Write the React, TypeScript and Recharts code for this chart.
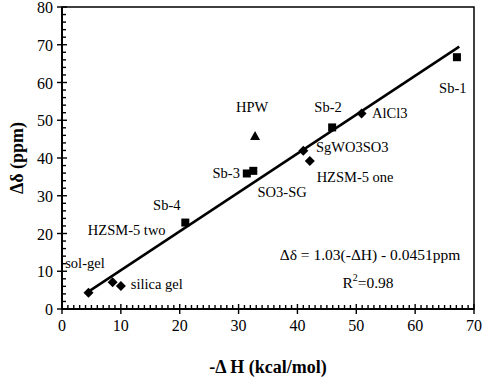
import { ScatterChart, Scatter, XAxis, YAxis, ReferenceArea } from "recharts";

// catalysts shown as squares (Sb series)
const squareX = [67.1, 45.9, 31.4, 32.5, 20.95];
const squareY = [66.7, 48.1, 35.9, 36.6, 22.9];

// catalysts shown as diamonds
const diamondX = [4.5, 8.6, 10.0, 41.0, 42.1, 50.9];
const diamondY = [4.3, 7.1, 6.1, 41.9, 39.2, 51.8];

// HPW (triangle)
const triangleX = [32.8];
const triangleY = [45.8];

// least squares fit line end points
const fitX = [4.5, 67.5];
const fitY = [4.6, 69.5];

// point labels
const labelText = [
  "Sb-1", "HPW", "Sb-2", "AlCl3", "SgWO3SO3", "HZSM-5 one",
  "Sb-3", "SO3-SG", "Sb-4", "HZSM-5 two", "sol-gel", "silica gel",
];
const labelX = [66.4, 32.3, 45.2, 55.7, 49.3, 49.8, 27.9, 37.4, 17.8, 11.0, 3.9, 16.1];
const labelY = [58.5, 53.5, 53.5, 51.9, 42.9, 35.0, 36.0, 31.0, 27.5, 20.9, 12.2, 6.6];

const xMajor = [0, 10, 20, 30, 40, 50, 60, 70];
const yMajor = [0, 10, 20, 30, 40, 50, 60, 70, 80];
const xTicks = Array.from({ length: 71 }, (_, i) => i);
const yTicks = Array.from({ length: 41 }, (_, i) => i * 2);

const FONT = "Liberation Serif, DejaVu Serif, Times New Roman, serif";
const txt = { fontFamily: FONT };

const zip = (xs: number[], ys: number[]) => xs.map((x, i) => ({ x, y: ys[i] }));

const squares = zip(squareX, squareY);
const diamonds = zip(diamondX, diamondY);
const triangles = zip(triangleX, triangleY);
const fit = zip(fitX, fitY);
const labels = labelText.map((text, i) => ({ x: labelX[i], y: labelY[i], text }));

const XTick = (props: any) => {
  const { x, y, payload } = props;
  const v = payload.value;
  const major = xMajor.includes(v);
  return (
    <g>
      <rect x={x - 0.7} y={major ? y - 5 : y - 4} width={1.4} height={major ? 10 : 4} fill="#000" />
      {major && (
        <text x={x} y={y + 22} textAnchor="middle" style={txt} fontSize={16} fill="#000">
          {v}
        </text>
      )}
    </g>
  );
};

const YTick = (props: any) => {
  const { x, y, payload } = props;
  const v = payload.value;
  const major = yMajor.includes(v);
  return (
    <g>
      <rect x={major ? x - 5 : x} y={y - 0.7} width={major ? 10 : 4} height={1.4} fill="#000" />
      {major && (
        <text x={x - 9} y={y + 6} textAnchor="end" style={txt} fontSize={16} fill="#000">
          {v}
        </text>
      )}
    </g>
  );
};

const Square = (p: any) => <rect x={p.cx - 4} y={p.cy - 4} width={8} height={8} fill="#000" />;
const Diamond = (p: any) => (
  <path d={`M${p.cx},${p.cy - 5}L${p.cx + 5},${p.cy}L${p.cx},${p.cy + 5}L${p.cx - 5},${p.cy}Z`} fill="#000" />
);
const Triangle = (p: any) => (
  <path d={`M${p.cx},${p.cy - 5}L${p.cx + 5},${p.cy + 4}L${p.cx - 5},${p.cy + 4}Z`} fill="#000" />
);
const Label = (p: any) => (
  <text x={p.cx} y={p.cy + 5} textAnchor="middle" style={txt} fontSize={14.5} fill="#000">
    {p.payload.text}
  </text>
);

export default function App() {
  return (
    <div style={{ position: "absolute", left: 0, top: 0, background: "#fff", fontFamily: FONT }}>
      <ScatterChart width={485} height={377} margin={{ top: 7, right: 11, left: 0, bottom: 0 }}>
        <ReferenceArea x1={0} x2={70} y1={0} y2={80} fill="none" stroke="#000" strokeWidth={1.5} />
        <XAxis
          type="number"
          dataKey="x"
          domain={[0, 70]}
          ticks={xTicks}
          interval={0}
          tickSize={0}
          tickMargin={0}
          tickLine={false}
          tick={<XTick />}
          height={68}
          axisLine={{ stroke: "#000", strokeWidth: 2 }}
          label={{
            value: "-\u0394 H (kcal/mol)",
            position: "insideBottom",
            offset: 4,
            style: { fontFamily: FONT, fontSize: 18, fontWeight: "bold", fill: "#000" },
          }}
        />
        <YAxis
          type="number"
          dataKey="y"
          domain={[0, 80]}
          ticks={yTicks}
          interval={0}
          tickSize={0}
          tickMargin={0}
          tickLine={false}
          tick={<YTick />}
          width={62}
          axisLine={{ stroke: "#000", strokeWidth: 2 }}
          label={{
            value: "\u0394\u03b4 (ppm)",
            angle: -90,
            position: "insideLeft",
            offset: 17,
            style: { fontFamily: FONT, fontSize: 18, fontWeight: "bold", fill: "#000", textAnchor: "middle" },
          }}
        />
        <Scatter data={fit} line={{ stroke: "#000", strokeWidth: 2.5 }} shape={() => <g />} isAnimationActive={false} />
        <Scatter data={squares} shape={<Square />} isAnimationActive={false} />
        <Scatter data={diamonds} shape={<Diamond />} isAnimationActive={false} />
        <Scatter data={triangles} shape={<Triangle />} isAnimationActive={false} />
        <Scatter data={labels} shape={<Label />} isAnimationActive={false} />
        <text x={370} y={260} textAnchor="middle" style={txt} fontSize={15.5} fill="#000">
          {"\u0394\u03b4 = 1.03(-\u0394H) - 0.0451ppm"}
        </text>
        <text x={368} y={288} textAnchor="middle" style={txt} fontSize={15.5} fill="#000">
          R<tspan dy={-7} fontSize={10}>2</tspan>
          <tspan dy={7}>=0.98</tspan>
        </text>
      </ScatterChart>
    </div>
  );
}
